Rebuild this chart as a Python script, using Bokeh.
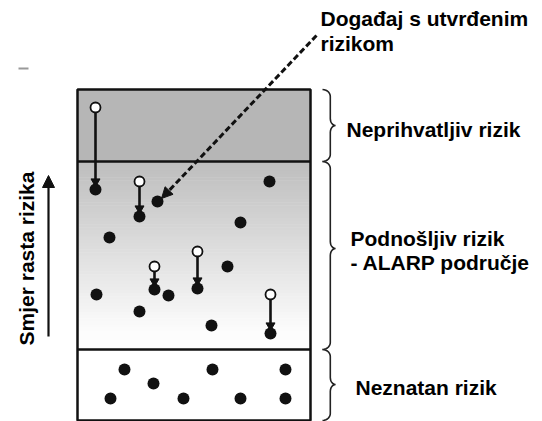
import numpy as np
from bokeh.plotting import figure
from bokeh.models import Range1d, Arrow, NormalHead
from bokeh.core.properties import value
from bokeh.embed import file_html
from bokeh.resources import INLINE

# ---- data (diagram coordinates, y grows downward = lower risk) ----
box_left, box_right = 77, 310
region_names = ["Neprihvatljiv rizik", "Podnošljiv rizik\n- ALARP područje", "Neznatan rizik"]
region_top = [89, 161, 349]
region_bottom = [161, 349, 420]
brace_tip_y = [125, 248, 384]
label_x = [346, 350, 355]
label_y = [129, 250, 387]

# risk events reduced by measures: initial (open) -> reduced (filled)
open_x = [95, 139, 197, 154, 270]
open_y = [107, 181, 251, 266, 294]
reduced_x = [95, 139, 197, 154, 270]
reduced_y = [189, 216, 288, 289, 333]

# other events (filled)
event_x = [157, 269, 240, 109, 227, 96, 168, 139, 211,
           124, 212, 285, 153, 110, 183, 240, 285]
event_y = [201, 181, 222, 237, 266, 294, 295, 311, 325,
           369, 369, 369, 383, 398, 398, 398, 398]

callout_text = "Događaj s utvrđenim\nrizikom"
axis_text = "Smjer rasta rizika"

FONT = value("Liberation Sans")

p = figure(width=542, height=421, x_range=Range1d(0, 542), y_range=Range1d(421, 0),
           output_backend="svg", toolbar_location=None, min_border=0,
           x_axis_type=None, y_axis_type=None)
p.grid.visible = False
p.outline_line_color = None
p.background_fill_color = "white"

# region fills
p.quad(left=box_left, right=box_right, top=region_top[0], bottom=region_bottom[0],
       fill_color="#b6b6b6", line_color=None)
n = 60
edges = np.linspace(region_top[1], region_bottom[1], n + 1)
g0, g1 = 190, 253
cols = []
for i in range(n):
    t = min(1.0, i / (n * 0.9))
    g = int(g0 + (g1 - g0) * t)
    cols.append("#%02x%02x%02x" % (g, g, g))
p.quad(left=box_left, right=box_right, top=edges[:-1], bottom=edges[1:] + 0.5,
       fill_color=cols, line_color=None)

# box outline and separators
p.quad(left=box_left, right=box_right, top=region_top[0], bottom=region_bottom[2],
       fill_color=None, line_color="#111111", line_width=2.5)
p.segment(x0=[box_left] * 2, x1=[box_right] * 2, y0=region_top[1:], y1=region_top[1:],
          line_color="#111111", line_width=2.5)

# braces
def brace(x0, top, bot, tip, w=13):
    xs, ys = [], []
    xm = x0 + w * 0.6
    r = 7
    t = np.linspace(0, np.pi / 2, 8)
    xs += list(x0 + (xm - x0) * np.sin(t)); ys += list(top + r * (1 - np.cos(t)))
    xs += [xm]; ys += [tip - r]
    t = np.linspace(0, np.pi / 2, 8)
    xs += list(xm + (x0 + w - xm) * (1 - np.cos(t))); ys += list(tip - r + r * np.sin(t))
    t = np.linspace(np.pi / 2, 0, 8)
    xs += list(xm + (x0 + w - xm) * (1 - np.cos(t))); ys += list(tip + r - r * np.sin(t))
    xs += [xm]; ys += [bot - r]
    t = np.linspace(np.pi / 2, 0, 8)
    xs += list(x0 + (xm - x0) * np.sin(t)); ys += list(bot - r * (1 - np.cos(t)))
    return xs, ys

bx, by = [], []
for top, bot, tip in zip(region_top, region_bottom, brace_tip_y):
    xs, ys = brace(322, top, bot, tip)
    bx.append(xs); by.append(ys)
p.multi_line(bx, by, line_color="#222222", line_width=1.6)

# event reductions
p.segment(x0=open_x, y0=open_y, x1=reduced_x, y1=[y - 6 for y in reduced_y],
          line_color="#111111", line_width=2.6)
p.scatter(x=reduced_x, y=[y - 8 for y in reduced_y], marker="inverted_triangle",
          size=9, fill_color="#111111", line_color="#111111")
p.scatter(x=reduced_x, y=reduced_y, size=12, fill_color="#111111", line_color=None)
p.scatter(x=open_x, y=open_y, size=10, fill_color="white", line_color="#111111", line_width=1.8)
p.scatter(x=event_x, y=event_y, size=12, fill_color="#111111", line_color=None)

# callout
p.add_layout(Arrow(end=NormalHead(size=11, fill_color="#111111", line_color="#111111"),
                   x_start=316, y_start=35, x_end=161, y_end=198,
                   line_dash="6 3", line_width=3, line_color="#111111"))
p.text(x=[320], y=[6], text=[callout_text], text_font_size="21px", text_font_style="bold",
       text_font=FONT, text_baseline="top", text_line_height=1.1, text_color="black")

# region labels
p.text(x=label_x, y=label_y, text=region_names, text_font_size="21px",
       text_font_style="bold", text_font=FONT, text_baseline="middle",
       text_line_height=1.05, text_color="black")

# direction arrow
p.add_layout(Arrow(end=NormalHead(size=12, fill_color="#111111", line_color="#111111"),
                   x_start=48, y_start=336, x_end=48, y_end=175,
                   line_width=2.2, line_color="#111111"))
p.text(x=[26], y=[258], text=[axis_text], angle=np.pi / 2, text_font_size="21px",
       text_font_style="bold", text_font=FONT, text_align="center",
       text_baseline="middle", text_color="black")

# scan mark
p.segment(x0=[18], y0=[68], x1=[28], y1=[68], line_color="#999999", line_width=2)

open("out.html", "w").write(file_html(p, INLINE))
